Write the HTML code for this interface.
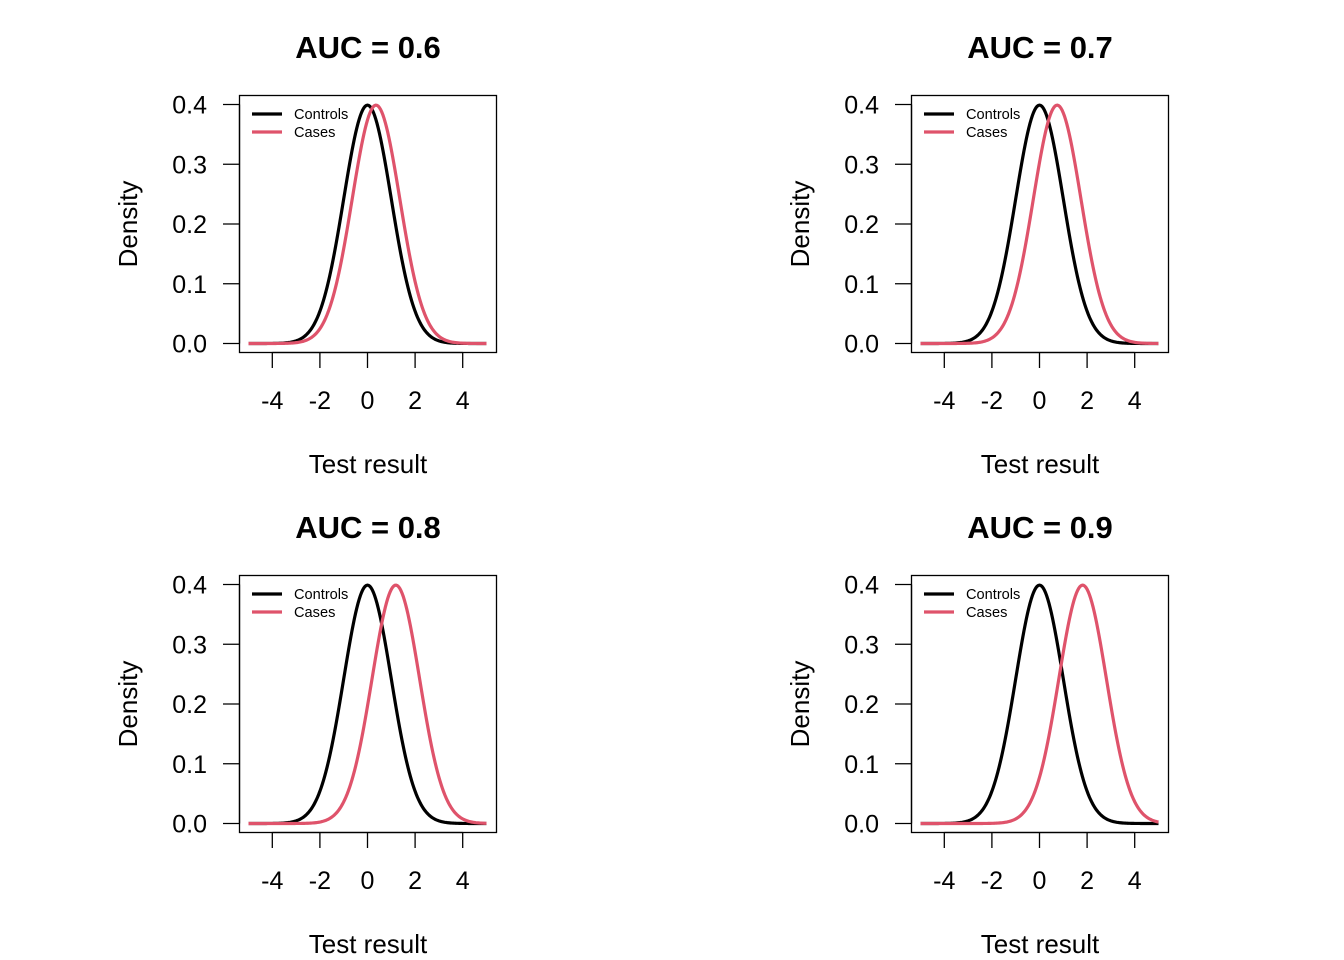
<!DOCTYPE html>
<html><head><meta charset="utf-8"><style>
body{margin:0;background:#fff}
svg{display:block;font-family:"Liberation Sans",Arial,sans-serif}
</style></head><body>
<svg id="c" width="1344" height="960" xmlns="http://www.w3.org/2000/svg"></svg>
<script>
const aucTitles = ["AUC = 0.6","AUC = 0.7","AUC = 0.8","AUC = 0.9"];
const controlMeans = [0,0,0,0];
const caseMeans = [0.358,0.742,1.190,1.812];
const sds = [1,1,1,1];
const xTicks = [-4,-2,0,2,4];
const yTicks = [0.0,0.1,0.2,0.3,0.4];
const yTickLabels = ["0.0","0.1","0.2","0.3","0.4"];
const legendLabels = ["Controls","Cases"];
const seriesColors = ["#000000","#DF536B"];

const NS="http://www.w3.org/2000/svg";
const svg=document.getElementById('c');
function el(tag,attrs,parent,text){const e=document.createElementNS(NS,tag);for(const k in attrs)e.setAttribute(k,attrs[k]);if(text!==undefined)e.textContent=text;(parent||svg).appendChild(e);return e;}
function dnorm(x,m,s){return Math.exp(-0.5*((x-m)/s)**2)/(s*Math.sqrt(2*Math.PI));}
const offsets=[[0,0],[672,0],[0,480],[672,480]];
offsets.forEach((o,i)=>{
  const g=el('g',{transform:`translate(${o[0]},${o[1]})`});
  
  
  const X=v=>367.5+v*23.8;
  const Y=v=>343.5-v*597.5;
  const t=el('text',{x:368,y:58,'text-anchor':'middle','font-size':31,'font-weight':'bold'},g,aucTitles[i]);
  
  [controlMeans[i],caseMeans[i]].forEach((m,k)=>{
    let d='';
    for(let j=0;j<=200;j++){const x=-5+j*0.05;d+=(j?'L':'M')+X(x).toFixed(2)+','+Y(dnorm(x,m,sds[i])).toFixed(2);}
    const p=el('path',{d:d,fill:'none',stroke:seriesColors[k],'stroke-width':3.2},g);
    
  });
  const box=el('rect',{x:239.5,y:95.5,width:257,height:257,fill:'none',stroke:'#000','stroke-width':1.3},g);
  
  const xa=el('g',{},g);
  el('line',{x1:X(xTicks[0]),x2:X(xTicks[xTicks.length-1]),y1:352.5,y2:352.5,stroke:'#000','stroke-width':1.3},xa);
  xTicks.forEach(v=>{el('line',{x1:X(v),x2:X(v),y1:352.5,y2:368,stroke:'#000','stroke-width':1.3},xa);
    el('text',{x:X(v),y:409,'text-anchor':'middle','font-size':25},xa,v<0?'-'+Math.abs(v):String(v));});
  const xl=el('text',{x:368,y:473,'text-anchor':'middle','font-size':26},g,'Test result');
  
  const ya=el('g',{},g);
  el('line',{x1:239.5,x2:239.5,y1:Y(0),y2:Y(0.4),stroke:'#000','stroke-width':1.3},ya);
  yTicks.forEach((v,k)=>{el('line',{x1:223,x2:239.5,y1:Y(v),y2:Y(v),stroke:'#000','stroke-width':1.3},ya);
    el('text',{x:207,y:Y(v)+9,'text-anchor':'end','font-size':25},ya,yTickLabels[k]);});
  const yl=el('text',{transform:'translate(137,224) rotate(-90)','text-anchor':'middle','font-size':26},g,'Density');
  
  const lg=el('g',{},g);
  legendLabels.forEach((l,k)=>{const yy=114+k*18;
    el('line',{x1:252,x2:282,y1:yy,y2:yy,stroke:seriesColors[k],'stroke-width':3.2},lg);
    el('text',{x:294,y:yy+5,'font-size':14.6},lg,l);});
});
</script>
</body></html>
